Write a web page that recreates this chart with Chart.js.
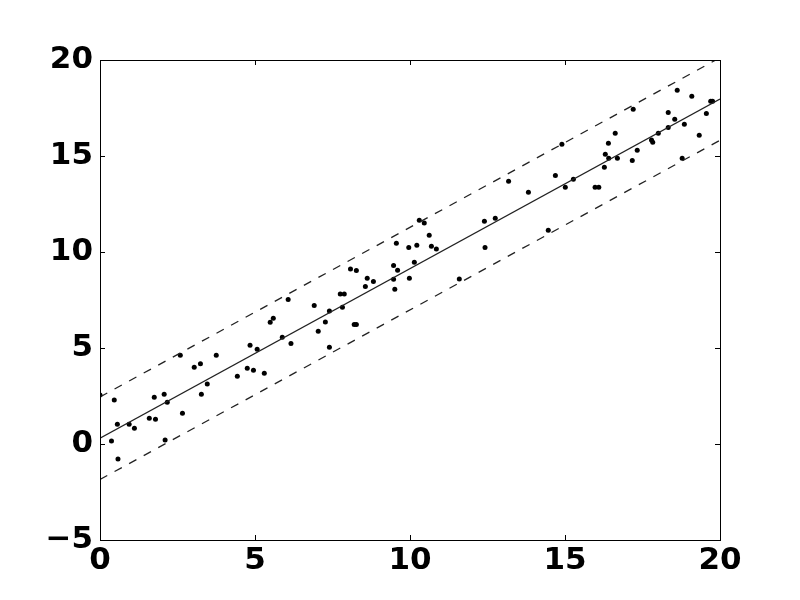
<!DOCTYPE html>
<html><head><meta charset="utf-8">
<script src="https://cdn.jsdelivr.net/npm/chart.js@4"></script>
<style>html,body{margin:0;padding:0;background:#fff}#wrap{width:800px;height:600px}</style>
</head><body><div id="wrap"><canvas id="c" width="800" height="600"></canvas></div>
<script>
const xValues = [0.0,0.46,0.37,0.58,0.56,0.94,1.11,1.59,1.79,1.75,2.07,2.17,2.10,2.66,2.59,3.04,3.24,3.27,3.46,3.75,
  4.43,4.75,4.95,4.84,5.07,5.30,5.49,5.59,6.07,5.88,6.16,6.91,7.04,7.27,7.40,7.40,7.82,7.75,7.88,8.20,
  8.27,8.08,8.27,8.62,8.56,8.82,9.47,9.60,9.47,9.51,9.56,9.96,10.22,10.14,9.98,10.30,10.46,10.62,10.69,10.85,
  11.59,12.42,12.40,12.75,13.18,13.82,14.46,14.69,15.01,15.27,14.90,15.97,16.09,16.27,16.30,16.40,16.41,16.62,16.69,17.17,
  17.33,17.20,17.79,17.83,18.01,18.33,18.33,18.54,18.62,18.85,18.78,19.09,19.33,19.56,19.70,19.76];
const yValues = [2.55,2.29,0.16,-0.78,1.03,1.03,0.82,1.34,1.29,2.43,2.59,2.18,0.21,1.60,4.62,4.00,4.18,2.59,3.13,4.62,
  3.53,3.94,3.84,5.14,4.93,3.68,6.34,6.55,7.53,5.56,5.24,7.22,5.87,6.35,6.93,5.04,7.12,7.81,7.81,6.23,
  6.23,9.11,9.03,8.63,8.20,8.47,9.30,9.05,8.58,8.06,10.45,10.24,10.35,9.46,8.63,11.66,11.51,10.87,10.30,10.16,
  8.59,10.24,11.60,11.76,13.68,13.11,11.13,13.99,13.37,13.79,15.61,13.37,13.37,14.41,15.09,15.66,14.88,16.18,14.88,14.77,
  15.30,17.43,15.83,15.71,16.18,16.49,17.27,16.91,18.42,16.65,14.88,18.11,16.08,17.22,17.85,17.85];
const fitX = [0, 20];
const fitY = [0.30, 17.97];
const upperY = [2.45, 20.12];
const lowerY = [-1.85, 15.82];
const xTicks = [0, 5, 10, 15, 20];
const yTicks = [-5, 0, 5, 10, 15, 20];

const pts = xValues.map((x, i) => ({x: x, y: yValues[i]}));
const lineData = ys => fitX.map((x, i) => ({x: x, y: ys[i]}));
const tickFont = {family: 'DejaVu Sans', size: 31, weight: 'bold'};

const frameTicks = {
  id: 'frameTicks',
  afterDraw(chart) {
    const {ctx, chartArea: a, scales: {x, y}} = chart;
    ctx.save();
    ctx.strokeStyle = '#000';
    ctx.lineWidth = 1;
    ctx.beginPath();
    xTicks.forEach(v => {
      const px = Math.round(x.getPixelForValue(v)) + 0.5;
      ctx.moveTo(px, a.bottom); ctx.lineTo(px, a.bottom - 5);
      ctx.moveTo(px, a.top); ctx.lineTo(px, a.top + 5);
    });
    yTicks.forEach(v => {
      const py = Math.round(y.getPixelForValue(v)) + 0.5;
      ctx.moveTo(a.left, py); ctx.lineTo(a.left + 5, py);
      ctx.moveTo(a.right, py); ctx.lineTo(a.right - 5, py);
    });
    ctx.stroke();
    ctx.strokeRect(Math.round(a.left) + 0.5, Math.round(a.top) + 0.5, Math.round(a.right - a.left), Math.round(a.bottom - a.top));
    ctx.restore();
  }
};

new Chart(document.getElementById('c'), {
  type: 'scatter',
  data: {
    datasets: [
      {data: lineData(upperY), showLine: true, borderColor: '#222', borderWidth: 1.3, borderDash: [8.3, 8.3], pointRadius: 0, clip: 0},
      {data: lineData(lowerY), showLine: true, borderColor: '#222', borderWidth: 1.3, borderDash: [8.3, 8.3], pointRadius: 0, clip: 0},
      {data: lineData(fitY), showLine: true, borderColor: '#222', borderWidth: 1.3, pointRadius: 0, clip: 0},
      {data: pts, pointRadius: 2.5, pointBackgroundColor: '#000', pointBorderWidth: 0, clip: 0}
    ]
  },
  options: {
    responsive: false,
    animation: false,
    devicePixelRatio: 1,
    layout: {padding: {top: 60, right: 80, left: 0, bottom: 0}},
    plugins: {legend: {display: false}, tooltip: {enabled: false}},
    scales: {
      x: {
        type: 'linear', min: 0, max: 20,
        afterBuildTicks: s => { s.ticks = xTicks.map(v => ({value: v})); },
        afterFit: s => { s.height = 60; },
        grid: {display: false, drawTicks: false},
        border: {display: false},
        ticks: {font: tickFont, color: '#000', padding: 2, maxRotation: 0,
          callback: v => String(v).replace('-', '\u2212')}
      },
      y: {
        type: 'linear', min: -5, max: 20,
        afterBuildTicks: s => { s.ticks = yTicks.map(v => ({value: v})); },
        afterFit: s => { s.width = 100; },
        grid: {display: false, drawTicks: false},
        border: {display: false},
        ticks: {font: tickFont, color: '#000', padding: 7,
          callback: v => String(v).replace('-', '\u2212')}
      }
    }
  },
  plugins: [frameTicks]
});
</script></body></html>
